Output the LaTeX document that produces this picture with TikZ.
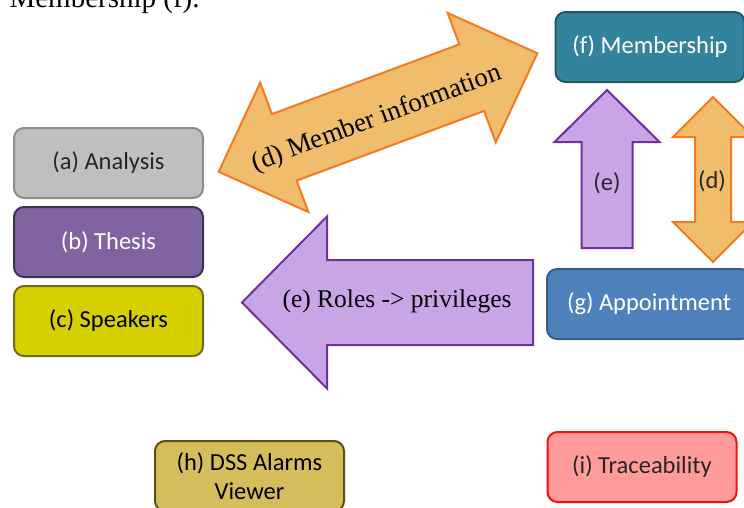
\documentclass[tikz,border=0pt]{standalone}
\usepackage{fontspec}
\setmainfont{Carlito}
\newfontfamily\capfont{Liberation Serif}
\usetikzlibrary{positioning}

\definecolor{anafill}{HTML}{BFBFBF}  \definecolor{anadraw}{HTML}{8C8C8C}
\definecolor{thefill}{HTML}{8064A2}  \definecolor{thedraw}{HTML}{3F3151}
\definecolor{spefill}{HTML}{D6D000}  \definecolor{spedraw}{HTML}{6B6B23}
\definecolor{memfill}{HTML}{31849B}  \definecolor{memdraw}{HTML}{215867}
\definecolor{appfill}{HTML}{4F81BD}  \definecolor{appdraw}{HTML}{385D8A}
\definecolor{dssfill}{HTML}{D6BD5C}  \definecolor{dssdraw}{HTML}{5E4E12}
\definecolor{trafill}{HTML}{FF9B9B}  \definecolor{tradraw}{HTML}{F01010}
\definecolor{infofill}{HTML}{EFBD6C} \definecolor{infodraw}{HTML}{F47920}
\definecolor{rolefill}{HTML}{C8A5E4} \definecolor{roledraw}{HTML}{7030A0}

\begin{document}
\begin{tikzpicture}[x=1pt,y=-1pt,
   box/.style={draw,rounded corners=10pt,line width=2pt,minimum width=189pt,
      minimum height=70pt,align=center,font=\fontsize{24.5}{29}\selectfont},
   info/.style={fill=infofill,draw=infodraw,line width=2pt,line join=miter},
   role/.style={fill=rolefill,draw=roledraw,line width=2pt,line join=miter},
   blocklabel/.style={font=\capfont\fontsize{25.5}{30}\selectfont},
   smalllabel/.style={font=\fontsize{24.5}{29}\selectfont,text=black!85}]
   \useasboundingbox (0,0) rectangle (744,507);
   \node[anchor=base west,font=\capfont\fontsize{29}{34}\selectfont] (caption) at (6,7) {Membership (f).};

   % boxes
   \node[box,fill=anafill,draw=anadraw,text=black!85] (analysis) at (108.5,163) {(a) Analysis};
   \node[box,fill=thefill,draw=thedraw,text=white] (thesis) [below=7pt of analysis] {(b) Thesis};
   \node[box,fill=spefill,draw=spedraw,text=black] (speakers) [below=7pt of thesis] {(c) Speakers};
   \node[box,fill=memfill,draw=memdraw,text=white] (membership) at (650,47) {(f) Membership};
   \node[box,fill=appfill,draw=appdraw,text=white,minimum width=204pt] (appointment) at (649,304) {(g) Appointment};
   \node[box,fill=dssfill,draw=dssdraw,text=black] (alarms) at (249.5,476) {(h) DSS Alarms\\Viewer};
   \node[box,fill=trafill,draw=tradraw,text=black!85] (traceability) at (642,467) {(i) Traceability};

   % block arrows
   \begin{scope}[shift={(378,112.5)},rotate=20.4]
      \draw[info] (-170,0) -- (-100,69) -- (-100,35.5) -- (100,35.5) -- (100,69) -- (170,0)
         -- (100,-69) -- (100,-35.5) -- (-100,-35.5) -- (-100,-69) -- cycle;
   \end{scope}
   \node[blocklabel,font=\capfont\fontsize{27}{32}\selectfont,rotate=20.4] (memberinfo) at (377,119) {(d) Member information};

   \draw[role] (242,302.5) -- (327,216.5) -- (327,260) -- (533,260) -- (533,345)
      -- (327,345) -- (327,388.5) -- cycle;
   \node[blocklabel] (roles) at (397,301) {(e) Roles -> privileges};

   \draw[role] (607,90) -- (659.5,142) -- (632.5,142) -- (632.5,248) -- (581.5,248)
      -- (581.5,142) -- (554.5,142) -- cycle;
   \node[smalllabel] (roleup) at (607,183) {(e)};

   \draw[info] (713,97) -- (753,137) -- (731,137) -- (731,222) -- (753,222) -- (713,262)
      -- (673,222) -- (695,222) -- (695,137) -- (673,137) -- cycle;
   \node[smalllabel] (infoupdown) at (712,181) {(d)};
\end{tikzpicture}
\end{document}
